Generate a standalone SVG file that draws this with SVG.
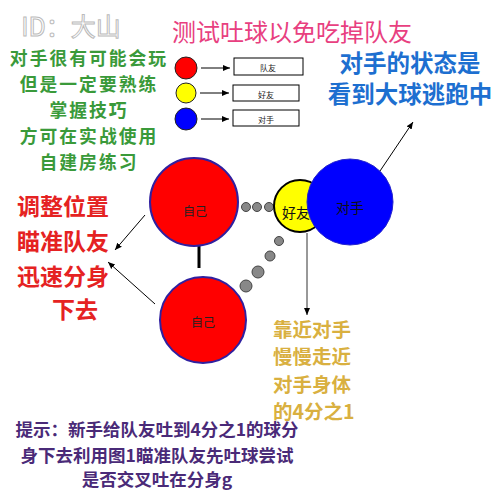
<svg xmlns="http://www.w3.org/2000/svg" width="500" height="490" viewBox="0 0 500 490">
<defs>
<marker id="ah" markerWidth="8" markerHeight="8" refX="7" refY="4" orient="auto" markerUnits="userSpaceOnUse">
<path d="M0,1 L7,4 L0,7 Z" fill="#000"/>
</marker>
<style>
text{font-family:"Noto Sans CJK SC","Liberation Sans",sans-serif;text-anchor:middle;dominant-baseline:central}
.g{fill:#3a9a3a;font-size:17.8px;font-weight:bold;letter-spacing:2px}
.r{fill:#e52222;font-size:23px;font-weight:bold}
.b{fill:#1d6fd0;font-size:23.5px;font-weight:bold}
.y{fill:#d9b040;font-size:19.5px;font-weight:bold;text-anchor:start}
.p{fill:#4a2a78;font-size:17.5px;font-weight:bold}
.lab{font-size:8px;fill:#222}
.dot{fill:#888;stroke:#444;stroke-width:1}
.ln{stroke:#000;stroke-width:1;fill:none}
.box{fill:#fff;stroke:#000;stroke-width:1}
</style>
</defs>
<rect width="500" height="490" fill="#fff"/>
<text x="71" y="25" style="font-size:25px;fill:#fff;stroke:#bbb;stroke-width:1">ID：大山</text>
<text x="292" y="30" style="font-size:24px;fill:#e8407f">测试吐球以免吃掉队友</text>
<g id="green-text">
<text class="g" x="89" y="57">对手很有可能会玩</text>
<text class="g" x="89" y="83">但是一定要熟练</text>
<text class="g" x="89" y="109">掌握技巧</text>
<text class="g" x="89" y="135">方可在实战使用</text>
<text class="g" x="89" y="161">自建房练习</text>
</g>
<g id="blue-text">
<text class="b" x="410" y="62">对手的状态是</text>
<text class="b" x="410" y="93">看到大球逃跑中</text>
</g>
<g id="red-text">
<text class="r" x="63" y="205">调整位置</text>
<text class="r" x="63" y="240">瞄准队友</text>
<text class="r" x="63" y="275">迅速分身</text>
<text class="r" x="75" y="308">下去</text>
</g>
<g id="gold-text">
<text class="y" x="273" y="328">靠近对手</text>
<text class="y" x="273" y="355">慢慢走近</text>
<text class="y" x="273" y="383">对手身体</text>
<text class="y" x="273" y="410">的4分之1</text>
</g>
<g id="tip-text">
<text class="p" x="157" y="428">提示：新手给队友吐到4分之1的球分</text>
<text class="p" x="157" y="454">身下去利用图1瞄准队友先吐球尝试</text>
<text class="p" x="157" y="478">是否交叉吐在分身g</text>
</g>
<g id="legend">
<circle cx="186" cy="68" r="11" fill="#f00" stroke="#222" stroke-width="1"/>
<circle cx="186" cy="93" r="10" fill="#ff0" stroke="#222" stroke-width="1"/>
<circle cx="186" cy="119" r="11" fill="#00f" stroke="#222" stroke-width="1"/>
<rect class="box" x="234" y="58" width="69" height="17"/>
<rect class="box" x="233" y="85" width="66" height="16"/>
<rect class="box" x="233" y="110" width="66" height="16"/>
<text class="lab" x="268" y="67">队友</text>
<text class="lab" x="266" y="94">好友</text>
<text class="lab" x="266" y="119">对手</text>
</g>
<g id="connectors">
<line class="ln" x1="201" y1="68" x2="230" y2="68" marker-end="url(#ah)"/>
<line class="ln" x1="200" y1="93" x2="229" y2="93" marker-end="url(#ah)"/>
<line class="ln" x1="201" y1="119" x2="229" y2="119" marker-end="url(#ah)"/>
<line class="ln" x1="145" y1="215" x2="115" y2="250" marker-end="url(#ah)"/>
<line class="ln" x1="155" y1="304" x2="108" y2="262" marker-end="url(#ah)"/>
<line class="ln" x1="380" y1="171" x2="413" y2="122" marker-end="url(#ah)"/>
<line x1="307" y1="233" x2="307" y2="315" stroke="#333" stroke-width="1" marker-end="url(#ah)"/>
<line x1="199" y1="246" x2="199" y2="268" stroke="#000" stroke-width="3"/>
<circle class="dot" cx="246" cy="207" r="4.5"/>
<circle class="dot" cx="257" cy="207" r="4.5"/>
<circle class="dot" cx="269" cy="207" r="4.5"/>
<circle class="dot" cx="279" cy="241" r="4.5"/>
<circle class="dot" cx="270" cy="256" r="5"/>
<circle class="dot" cx="258" cy="272" r="6"/>
<circle class="dot" cx="246" cy="286" r="6"/>
</g>
<g id="self1">
<circle cx="194" cy="202" r="44" fill="#f00" stroke="#3020a0" stroke-width="2"/>
<text x="195" y="210" style="font-size:12px;fill:#222">自己</text>
</g>
<g id="self2">
<circle cx="203" cy="320" r="43" fill="#f00" stroke="#3020a0" stroke-width="2"/>
<text x="203" y="321" style="font-size:12px;fill:#222">自己</text>
</g>
<g id="friend">
<circle cx="300" cy="206" r="26" fill="#ff0" stroke="#000" stroke-width="2"/>
<text x="296" y="212" style="font-size:14px;fill:#111">好友</text>
</g>
<g id="opponent">
<circle cx="350" cy="202" r="43" fill="#00f" stroke="#22c" stroke-width="1"/>
<text x="350" y="207" style="font-size:14px;fill:#111">对手</text>
</g>
</svg>
